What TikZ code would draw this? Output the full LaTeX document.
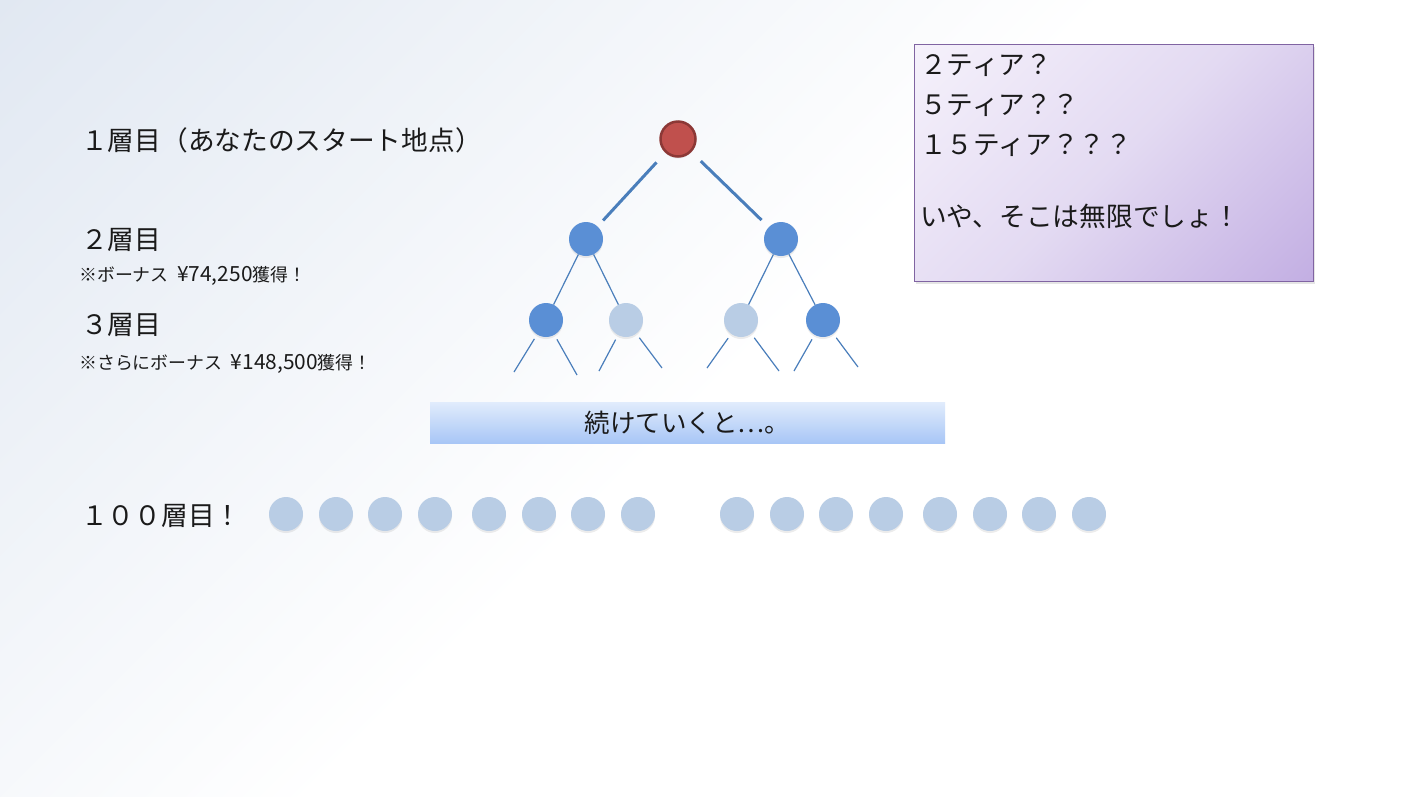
\documentclass[tikz,border=0pt]{standalone}
\usepackage{fontspec}
\setmainfont{Noto Sans CJK JP}
\usetikzlibrary{shadows}
\definecolor{bgc}{HTML}{E1E8F2}
\definecolor{nodedark}{HTML}{5A8FD5}
\definecolor{nodelight}{HTML}{B9CDE5}
\definecolor{edgeblue}{HTML}{4A7EBB}
\definecolor{rootfill}{HTML}{C0504D}
\definecolor{rootdraw}{HTML}{8C3836}
\definecolor{pdark}{HTML}{C3AFE3}
\definecolor{pmid}{HTML}{E3DAF2}
\definecolor{plight}{HTML}{F5F1FB}
\definecolor{pborder}{HTML}{8064A2}
\definecolor{bantop}{HTML}{E1ECFC}
\definecolor{banbot}{HTML}{A8C6F6}
\definecolor{txt}{HTML}{1A1A1A}
\pgfdeclareverticalshading{purpleshade}{100bp}{color(0bp)=(pdark); color(15bp)=(pdark); color(50bp)=(pmid); color(85bp)=(plight); color(100bp)=(plight)}
\newcommand{\num}[1]{{\fontsize{20.9}{20}\selectfont #1}}
\begin{document}
\begin{tikzpicture}[x=1pt,y=-1pt,
  big/.style={font=\fontsize{26.7}{30}\selectfont, anchor=base west, inner sep=0pt, text=txt},
  small/.style={font=\fontsize{17.9}{20}\selectfont, anchor=base west, inner sep=0pt, text=txt},
  dot/.style={circle, minimum size=34pt, inner sep=0pt, drop shadow={shadow xshift=0pt, shadow yshift=-2pt, opacity=0.15}},
  darkdot/.style={dot, fill=nodedark},
  lightdot/.style={dot, fill=nodelight},
  trunk/.style={draw=edgeblue, line width=3pt},
  twig/.style={draw=edgeblue, line width=1.2pt},
]
\useasboundingbox (0,0) rectangle (1426,796);
\begin{scope}
  \clip (0,0) rectangle (1426,796);
  \fill[white] (0,0) rectangle (1426,796);
  \shade[transform canvas={shift={(713,398)}, rotate=45}, top color=bgc, bottom color=white, middle color=white]
    (-1000,-786) rectangle (1000,786);
\end{scope}

% left labels
\node[big] (t1) at (81,150) {１層目（あなたのスタート地点）};
\node[big] (t2) at (81,249) {２層目};
\node[small] (bonus2) at (79,281.5) {※ボーナス\hspace{8.5pt}\num{¥74,250}獲得！};
\node[big] (t3) at (81,334) {３層目};
\node[small] (bonus3) at (79,369.5) {※さらにボーナス\hspace{8.5pt}\num{¥148,500}獲得！};
\node[big] (t100) at (81,525) {１００層目！};

% tree
\node[circle, minimum size=35pt, inner sep=0pt, fill=rootfill, draw=rootdraw, line width=2.5pt,
      drop shadow={shadow xshift=0pt, shadow yshift=-2pt, opacity=0.15}] (root) at (678,139) {};
\node[darkdot] (b1) at (586,239) {};
\node[darkdot] (b2) at (781,239) {};
\node[darkdot] (c1) at (546,320) {};
\node[lightdot] (c2) at (626,320) {};
\node[lightdot] (c3) at (741,320) {};
\node[darkdot] (c4) at (823,320) {};

\draw[trunk, shorten <=13pt, shorten >=8pt] (root) -- (b1);
\draw[trunk, shorten <=13pt, shorten >=10pt] (root) -- (b2);
\draw[twig] (b1) -- (c1);
\draw[twig] (b1) -- (c2);
\draw[twig] (b2) -- (c3);
\draw[twig] (b2) -- (c4);

\coordinate (e1) at (514,372);
\coordinate (e2) at (577,375);
\coordinate (e3) at (599,371);
\coordinate (e4) at (662,368);
\coordinate (e5) at (707,368);
\coordinate (e6) at (779,371);
\coordinate (e7) at (794,371);
\coordinate (e8) at (858,367);
\draw[twig, shorten <=5pt] (c1) -- (e1);
\draw[twig, shorten <=5pt] (c1) -- (e2);
\draw[twig, shorten <=5pt] (c2) -- (e3);
\draw[twig, shorten <=5pt] (c2) -- (e4);
\draw[twig, shorten <=5pt] (c3) -- (e5);
\draw[twig, shorten <=5pt] (c3) -- (e6);
\draw[twig, shorten <=5pt] (c4) -- (e7);
\draw[twig, shorten <=5pt] (c4) -- (e8);

% banner
\node[shade, top color=bantop, bottom color=banbot, minimum width=515pt, minimum height=41pt,
      inner sep=0pt, font=\fontsize{25.5}{28}\selectfont, text=txt] (banner) at (687.5,422.5) {続けていくと…。};

% purple box
\node[shade, shading=purpleshade, shading angle=45, draw=pborder, line width=1pt,
      minimum width=399pt, minimum height=237pt, inner sep=0pt, anchor=north west,
      drop shadow={shadow xshift=1.5pt, shadow yshift=-2pt, opacity=0.2}] (pbox) at (914,44) {};
\node[big] (p1) at (920,74) {２ティア？};
\node[big] (p2) at (920,114) {５ティア？？};
\node[big] (p3) at (920,154.5) {１５ティア？？？};
\node[big] (p4) at (920,226.5) {いや、そこは無限でしょ！};

% 100th layer
\foreach \x [count=\i] in {286,336,385,435,489,539,588,638,737,787,836,886,940,990,1039,1089}
  \node[lightdot] (r\i) at (\x,514) {};
\end{tikzpicture}
\end{document}
